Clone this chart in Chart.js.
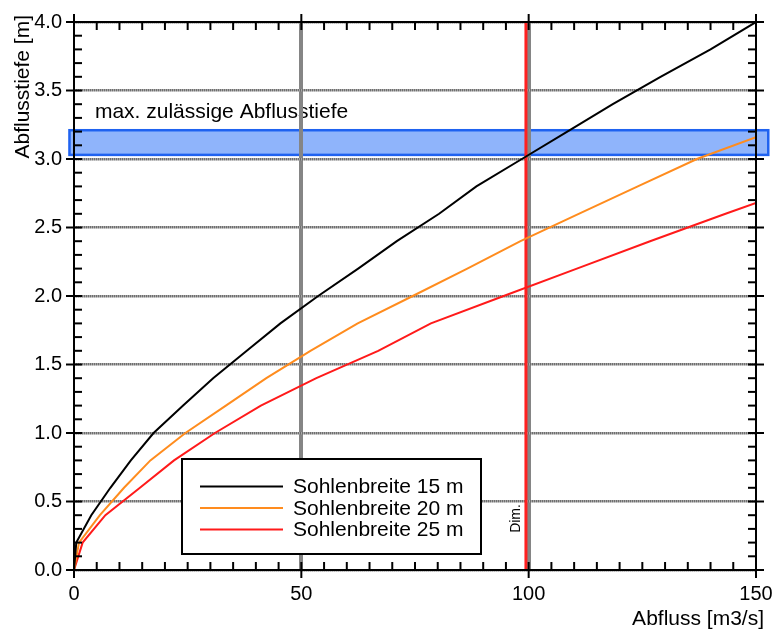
<!DOCTYPE html>
<html>
<head>
<meta charset="utf-8">
<script src="https://cdn.jsdelivr.net/npm/chart.js@4.4.1/dist/chart.umd.min.js"></script>
<style>
html,body{margin:0;padding:0;background:#fff;}
#wrap{width:781px;height:633px;}
</style>
</head>
<body>
<div id="wrap"><canvas id="chart"></canvas></div>
<script>

/* -------- DATA -------- */

const depth15 = [0,0.2,0.4,0.6,0.8,1.0,1.2,1.4,1.6,1.8,2.0,2.2,2.4,2.6,2.8,3.0,3.2,3.4,3.6,3.8,4.0];
const flow15  = [0,0.5,3.8,8,12.5,17.5,24,30.6,38,45.4,53.7,62.5,71,80.3,88.5,98.5,108.5,118.5,129,140,150];

const depth20 = [0,0.2,0.4,0.6,0.8,1.0,1.2,1.4,1.6,1.8,2.0,2.2,2.4,2.6,2.8,3.0,3.16];
const flow20  = [0,1.1,5.7,11,16.8,24.5,33.4,42.3,52,62.4,74.5,86.5,98.2,111,124,137,150];

const depth25 = [0,0.2,0.4,0.6,0.8,1.0,1.2,1.4,1.6,1.8,2.0,2.2,2.4,2.6,2.68];
const flow25  = [0,1.9,6.9,14.5,22,31,41.1,53.3,66.9,78.5,94.5,110.6,126.7,143.3,150];

const seriesNames = ["Sohlenbreite 15 m","Sohlenbreite 20 m","Sohlenbreite 25 m"];

const xTicks = [0,50,100,150];
const yTicks = [0,0.5,1.0,1.5,2.0,2.5,3.0,3.5,4.0];

const xTitle = "Abfluss [m3/s]";
const yTitle = "Abflusstiefe [m]";

// max. zulaessige Abflusstiefe (band) and Dim. discharge
const bandDepth = [3.03,3.21];
const bandFlow = [-1,152.7];
const bandLabel = "max. zulässige Abflusstiefe";
const bandLabelAt = [4.6,3.30];
const designFlow = 99.4;
const designLabel = "Dim.";
const designLabelDepth = 0.376;

const pts = (q,h) => q.map((v,i) => ({x:v, y:h[i]}));

const FONT = "'Liberation Sans', Arial, sans-serif";
Chart.defaults.font.family = FONT;
Chart.defaults.color = "#000";

// stippled grey for the horizontal grid
const pc=document.createElement("canvas");
pc.width=2; pc.height=1;
const pg=pc.getContext("2d");
pg.fillStyle="#6f6f6f"; pg.fillRect(0,0,1,1);
pg.fillStyle="#a8a8a8"; pg.fillRect(1,0,1,1);
const stipple=pg.createPattern(pc,"repeat");


/* -------- EXTRAS -------- */

const extras = {
id:"extras",

beforeDraw(c){
const g=c.ctx, x=c.scales.x, y=c.scales.y;
const l=x.getPixelForValue(bandFlow[0]), r=x.getPixelForValue(bandFlow[1]);
const t=y.getPixelForValue(bandDepth[1]), b=y.getPixelForValue(bandDepth[0]);
g.save();
g.fillStyle="#8fb4fb";
g.fillRect(l,t,r-l,b-t);
g.strokeStyle="#1f62f0";
g.lineWidth=2.5;
g.strokeRect(l,t,r-l,b-t);
g.fillStyle="#000";
g.font="21px "+FONT;
g.textBaseline="alphabetic";
g.fillText(bandLabel, x.getPixelForValue(bandLabelAt[0]), y.getPixelForValue(bandLabelAt[1]));
g.restore();
},

beforeDatasetsDraw(c){
const g=c.ctx, a=c.chartArea, x=c.scales.x, y=c.scales.y;
const px=x.getPixelForValue(designFlow);
g.save();
g.strokeStyle="#ff2020";
g.lineWidth=3;
g.beginPath();
g.moveTo(px,a.top);
g.lineTo(px,a.bottom);
g.stroke();
g.translate(px-10, y.getPixelForValue(designLabelDepth));
g.rotate(-Math.PI/2);
g.fillStyle="#000";
g.font="14px "+FONT;
g.textAlign="center";
g.textBaseline="middle";
g.fillText(designLabel,0,0);
g.restore();
},

afterDatasetsDraw(c){
const g=c.ctx, a=c.chartArea, x=c.scales.x, y=c.scales.y;
g.save();

// legend box
const bx=a.left+108, by=a.top+437, bw=299, bh=95;
g.fillStyle="#fff";
g.fillRect(bx,by,bw,bh);
g.strokeStyle="#000";
g.lineWidth=2;
g.strokeRect(bx,by,bw,bh);
g.font="21px "+FONT;
g.textBaseline="middle";
c.data.datasets.forEach((d,i)=>{
const ly=by+27.5+i*21.5;
g.strokeStyle=d.borderColor;
g.lineWidth=2;
g.beginPath();
g.moveTo(bx+18,ly);
g.lineTo(bx+101,ly);
g.stroke();
g.fillStyle="#000";
g.fillText(d.label,bx+111,ly+1);
});

// frame
g.strokeStyle="#000";
g.lineWidth=2;
g.strokeRect(a.left,a.top,a.right-a.left,a.bottom-a.top);

// ticks
const tick=(x1,y1,x2,y2)=>{g.beginPath();g.moveTo(x1,y1);g.lineTo(x2,y2);g.stroke();};
for(let v=0; v<=150; v+=5){
const px=x.getPixelForValue(v);
if(v%50===0){
tick(px,a.bottom-8,px,a.bottom+8);
tick(px,a.top-8,px,a.top+8);
}else{
tick(px,a.bottom,px,a.bottom-8);
tick(px,a.top,px,a.top+8);
}
}
for(let k=0; k<=40; k++){
const py=y.getPixelForValue(k/10);
if(k%5===0){
tick(a.left-8,py,a.left+8,py);
tick(a.right-8,py,a.right+8,py);
}else{
tick(a.left,py,a.left+8,py);
tick(a.right,py,a.right-8,py);
}
}

// axis titles
g.fillStyle="#000";
g.font="21px "+FONT;
g.textBaseline="alphabetic";
g.textAlign="right";
g.fillText(xTitle, a.right+8, a.bottom+55);
g.translate(29, a.top-7);
g.rotate(-Math.PI/2);
g.textAlign="right";
g.fillText(yTitle,0,0);
g.restore();
}
};


/* -------- CHART -------- */

const ctx=document.getElementById("chart");

new Chart(ctx,{

type:"line",

data:{
datasets:[
{label:seriesNames[0],data:pts(flow15,depth15),borderColor:"#000000"},
{label:seriesNames[1],data:pts(flow20,depth20),borderColor:"#ff8c1e"},
{label:seriesNames[2],data:pts(flow25,depth25),borderColor:"#ff1a1a"}
]
},

options:{
responsive:true,
maintainAspectRatio:false,
animation:false,
layout:{padding:{top:22,right:25,left:0,bottom:0}},
elements:{
line:{borderWidth:2,tension:0},
point:{radius:0}
},
plugins:{
legend:{display:false},
tooltip:{enabled:false}
},
scales:{
x:{
type:"linear",
min:0,
max:150,
afterBuildTicks:s=>{s.ticks=xTicks.map(v=>({value:v}));},
ticks:{padding:12,font:{size:20},maxRotation:0,callback:v=>String(v)},
grid:{
drawTicks:false,
lineWidth:4,
color:c=>(c.tick && (c.tick.value===50 || c.tick.value===100)) ? "#858585" : "rgba(0,0,0,0)"
},
border:{display:false},
afterFit:s=>{s.height=63;s.paddingLeft=0;s.paddingRight=0;}
},
y:{
type:"linear",
min:0,
max:4,
afterBuildTicks:s=>{s.ticks=yTicks.map(v=>({value:v}));},
ticks:{padding:12,font:{size:20},callback:v=>v.toFixed(1)},
grid:{drawTicks:false,lineWidth:2.5,color:stipple},
border:{display:false},
afterFit:s=>{s.width=74;s.paddingTop=0;s.paddingBottom=0;}
}
}
},

plugins:[extras]

});

</script>
</body>
</html>
